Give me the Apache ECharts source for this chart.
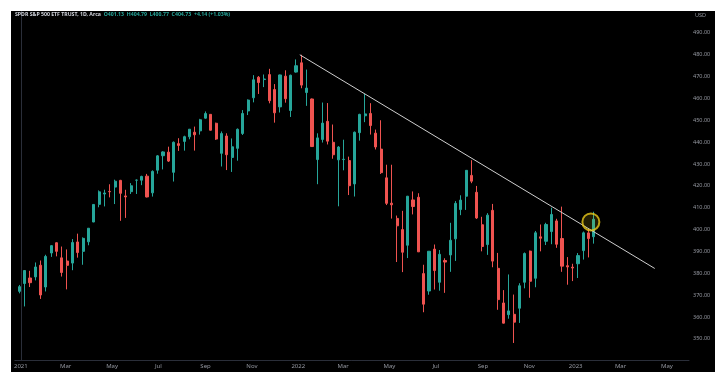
<!DOCTYPE html>
<html><head><meta charset="utf-8">
<script src="https://cdn.jsdelivr.net/npm/echarts@6/dist/echarts.min.js"></script>
<style>
html,body{margin:0;padding:0;background:#fff;width:718px;height:386px;overflow:hidden}
#c{position:absolute;left:11px;top:11px;width:704px;height:361px;background:#000}
</style>
</head><body><div id="c"></div>
<script>
// Weekly candles (week starting Monday)
const weeks = [
"2020-12-28","2021-01-04","2021-01-11","2021-01-18","2021-01-25","2021-02-01","2021-02-08","2021-02-15","2021-02-22","2021-03-01",
"2021-03-08","2021-03-15","2021-03-22","2021-03-29","2021-04-05","2021-04-12","2021-04-19","2021-04-26","2021-05-03","2021-05-10",
"2021-05-17","2021-05-24","2021-05-31","2021-06-07","2021-06-14","2021-06-21","2021-06-28","2021-07-05","2021-07-12","2021-07-19",
"2021-07-26","2021-08-02","2021-08-09","2021-08-16","2021-08-23","2021-08-30","2021-09-06","2021-09-13","2021-09-20","2021-09-27",
"2021-10-04","2021-10-11","2021-10-18","2021-10-25","2021-11-01","2021-11-08","2021-11-15","2021-11-22","2021-11-29","2021-12-06",
"2021-12-13","2021-12-20","2021-12-27","2022-01-03","2022-01-10","2022-01-17","2022-01-24","2022-01-31","2022-02-07","2022-02-14",
"2022-02-21","2022-02-28","2022-03-07","2022-03-14","2022-03-21","2022-03-28","2022-04-04","2022-04-11","2022-04-18","2022-04-25",
"2022-05-02","2022-05-09","2022-05-16","2022-05-23","2022-05-30","2022-06-06","2022-06-13","2022-06-20","2022-06-27","2022-07-04",
"2022-07-11","2022-07-18","2022-07-25","2022-08-01","2022-08-08","2022-08-15","2022-08-22","2022-08-29","2022-09-05","2022-09-12",
"2022-09-19","2022-09-26","2022-10-03","2022-10-10","2022-10-17","2022-10-24","2022-10-31","2022-11-07","2022-11-14","2022-11-21",
"2022-11-28","2022-12-05","2022-12-12","2022-12-19","2022-12-26","2023-01-02","2023-01-09","2023-01-16","2023-01-23"
];
const opens = [
371.74,375.31,377.85,378.34,383.67,373.72,389.27,393.96,387.06,385.59,
384.66,394.33,390.03,394.40,403.46,411.53,416.26,417.44,419.43,422.50,
415.39,417.34,422.57,422.59,424.43,416.80,427.17,433.78,435.43,426.19,
439.31,440.34,442.46,444.53,445.16,450.97,452.71,448.64,434.88,442.81,
433.00,437.16,443.97,454.28,460.30,469.70,468.64,470.89,464.07,456.13,
470.19,454.48,472.06,476.30,462.70,459.74,432.03,441.24,449.51,439.92,
431.89,432.03,431.55,420.89,444.34,452.06,453.13,444.11,436.81,423.67,
412.07,405.10,399.98,392.83,413.55,414.78,379.85,371.89,391.05,375.88,
385.85,388.38,395.75,409.15,415.25,424.77,417.05,402.20,393.13,408.78,
382.26,366.41,361.08,361.21,364.01,375.89,390.14,377.71,396.66,394.64,
399.09,403.95,395.89,383.47,382.79,384.37,390.37,398.48,396.72
];
const closes = [
373.88,381.26,375.70,382.88,370.07,387.71,392.64,390.03,380.36,383.63,
394.06,389.48,395.98,400.61,411.49,417.26,416.74,417.30,422.12,416.58,
414.94,420.04,422.60,424.31,414.92,426.61,433.72,435.52,431.34,439.94,
438.51,442.49,445.92,443.36,450.25,453.08,445.44,441.40,443.91,434.24,
437.86,445.87,453.12,459.25,468.53,467.27,468.89,458.97,453.42,470.74,
459.87,470.60,474.96,466.09,464.72,437.98,441.95,448.70,440.46,434.23,
437.75,432.17,420.07,444.52,452.69,452.92,447.57,437.79,426.04,412.00,
411.34,401.72,389.63,415.26,410.54,389.80,365.86,390.08,381.24,388.67,
385.13,395.09,411.99,413.47,427.10,422.14,405.31,392.24,406.60,385.56,
367.95,357.18,362.79,357.63,374.29,389.02,376.35,398.51,396.03,402.33,
406.91,393.28,383.27,382.91,382.43,388.08,398.50,395.88,404.73
];
const lows = [
370.83,364.82,373.70,376.75,368.27,371.69,387.50,387.74,378.50,372.64,
381.40,387.15,383.90,392.81,403.38,410.20,410.59,414.73,411.67,404.00,
405.33,416.28,416.28,420.32,414.70,415.09,425.55,427.52,430.92,421.97,
435.99,436.10,441.31,436.12,443.44,450.71,445.31,441.02,428.86,427.23,
426.36,431.50,443.27,452.39,458.20,462.04,465.18,457.77,448.92,453.56,
458.06,451.51,471.80,464.65,456.60,437.84,420.76,439.81,438.94,432.40,
410.64,427.11,415.79,415.12,440.68,449.14,443.47,436.65,425.44,411.21,
405.02,385.15,380.54,386.96,406.93,389.75,362.17,370.18,372.56,372.03,
371.04,380.66,385.65,406.59,408.98,421.22,404.85,390.04,388.42,382.75,
363.29,357.04,359.21,348.11,357.28,373.11,368.79,373.61,390.04,392.92,
393.30,391.64,380.66,374.77,376.42,377.83,386.27,387.26,393.56
];
const highs = [
374.66,381.49,381.13,384.95,385.85,388.47,392.90,394.17,392.23,390.92,
395.65,398.12,396.41,400.67,411.67,417.91,418.25,420.72,422.82,422.74,
418.20,421.25,422.92,424.63,425.46,427.09,434.10,435.84,437.92,440.30,
441.80,442.94,445.94,447.11,450.65,454.05,452.81,448.92,444.89,444.05,
441.68,446.26,454.67,459.56,470.65,470.23,470.94,473.54,466.56,470.90,
472.87,470.87,477.85,479.98,473.20,459.96,444.04,458.12,457.88,448.06,
438.20,441.11,433.37,444.86,452.98,462.07,457.83,445.75,450.01,429.66,
429.66,406.41,408.57,415.38,417.44,416.61,383.90,390.09,393.16,390.64,
386.87,403.10,413.03,415.68,427.21,431.73,419.96,405.84,407.51,411.73,
389.31,372.30,379.46,370.26,375.45,389.52,390.39,399.35,402.31,403.10,
410.00,404.93,410.49,387.41,384.35,389.25,399.10,400.23,408.16
];
// Resistance trendline endpoints [date, price]
const trendDates = ["2022-01-03","2023-04-15"];
const trendPrices = [479.98, 382.2];
// Highlighted breakout point
const markDate = "2023-01-21";
const markPrice = 403.5;
// Tick labels
const xTickDates = ["2021-01-01","2021-03-01","2021-05-01","2021-07-01","2021-09-01","2021-11-01",
"2022-01-01","2022-03-01","2022-05-01","2022-07-01","2022-09-01","2022-11-01",
"2023-01-01","2023-03-01","2023-05-01"];
const monthNames = ["Jan","Feb","Mar","Apr","May","Jun","Jul","Aug","Sep","Oct","Nov","Dec"];
const yTicks = [350,360,370,380,390,400,410,420,430,440,450,460,470,480,490];
const headerName = "SPDR S&P 500 ETF TRUST, 1D, Arca";
const headerValues = ["O401.13","H404.79","L400.77","C404.73","+4.14 (+1.03%)"];

const BASE = Date.UTC(2021,0,1);
function dayOf(s){const p=s.split('-').map(Number);return (Date.UTC(p[0],p[1]-1,p[2])-BASE)/86400000;}
function labelOf(d){const dt=new Date(BASE+Math.round(d)*86400000);const m=dt.getUTCMonth();return m===0?String(dt.getUTCFullYear()):monthNames[m];}

const candles = weeks.map((w,i)=>[dayOf(w)+2, opens[i], closes[i], lows[i], highs[i]]);
const xTicks = xTickDates.map(dayOf);

const chart = echarts.init(document.getElementById('c'), null, {renderer:'canvas'});
chart.setOption({
  backgroundColor:'#000',
  animation:false,
  title:[
    {left:4, top:1, padding:0, text:'{n|'+headerName+'}  '+headerValues.map(v=>'{v|'+v+'}').join('  '),
     textStyle:{fontSize:5.2, fontFamily:'Noto Sans', rich:{n:{color:'#d1d4dc',fontSize:5.2,fontFamily:'Noto Sans'},v:{color:'#26a69a',fontSize:5.2,fontFamily:'Noto Sans'}}}},
    {left:684, top:1, padding:0, text:'USD', textStyle:{color:'#9598a1', fontSize:5.5, fontWeight:'normal', fontFamily:'Noto Sans'}}
  ],
  grid:{left:0, right:26, top:0, bottom:11.3},
  xAxis:{type:'value', min:-7.85, max:879.1,
    axisLine:{show:true, lineStyle:{color:'#2a2e39', width:1}},
    axisTick:{show:false}, splitLine:{show:false},
    axisLabel:{customValues:xTicks, formatter:v=>labelOf(v), color:'#9598a1', fontSize:6, margin:3, fontFamily:'Noto Sans', showMinLabel:true, showMaxLabel:true}},
  yAxis:{type:'value', position:'right', min:340, max:500, interval:10, scale:false,
    axisLine:{show:true, lineStyle:{color:'#2a2e39', width:1}},
    axisTick:{show:false}, splitLine:{show:false},
    axisLabel:{customValues:yTicks, formatter:v=>v.toFixed(2), color:'#9598a1', fontSize:5.5, margin:4, fontFamily:'Noto Sans'}},
  series:[
    {type:'candlestick', data:candles, encode:{x:0, y:[1,2,3,4]}, barWidth:2.6,
     itemStyle:{color:'#26a69a', color0:'#ef5350', borderColor:'#26a69a', borderColor0:'#ef5350', borderWidth:1}},
    {type:'line', data:trendDates.map((d,i)=>[dayOf(d), trendPrices[i]]), symbol:'none',
     lineStyle:{color:'#cfcfcf', width:1}, z:5},
    {type:'scatter', data:[[dayOf(markDate), markPrice]], symbol:'circle', symbolSize:17,
     itemStyle:{color:'rgba(230,200,20,0.18)', borderColor:'#e8c81a', borderWidth:2}, z:6}
  ]
});
</script>
</body></html>
